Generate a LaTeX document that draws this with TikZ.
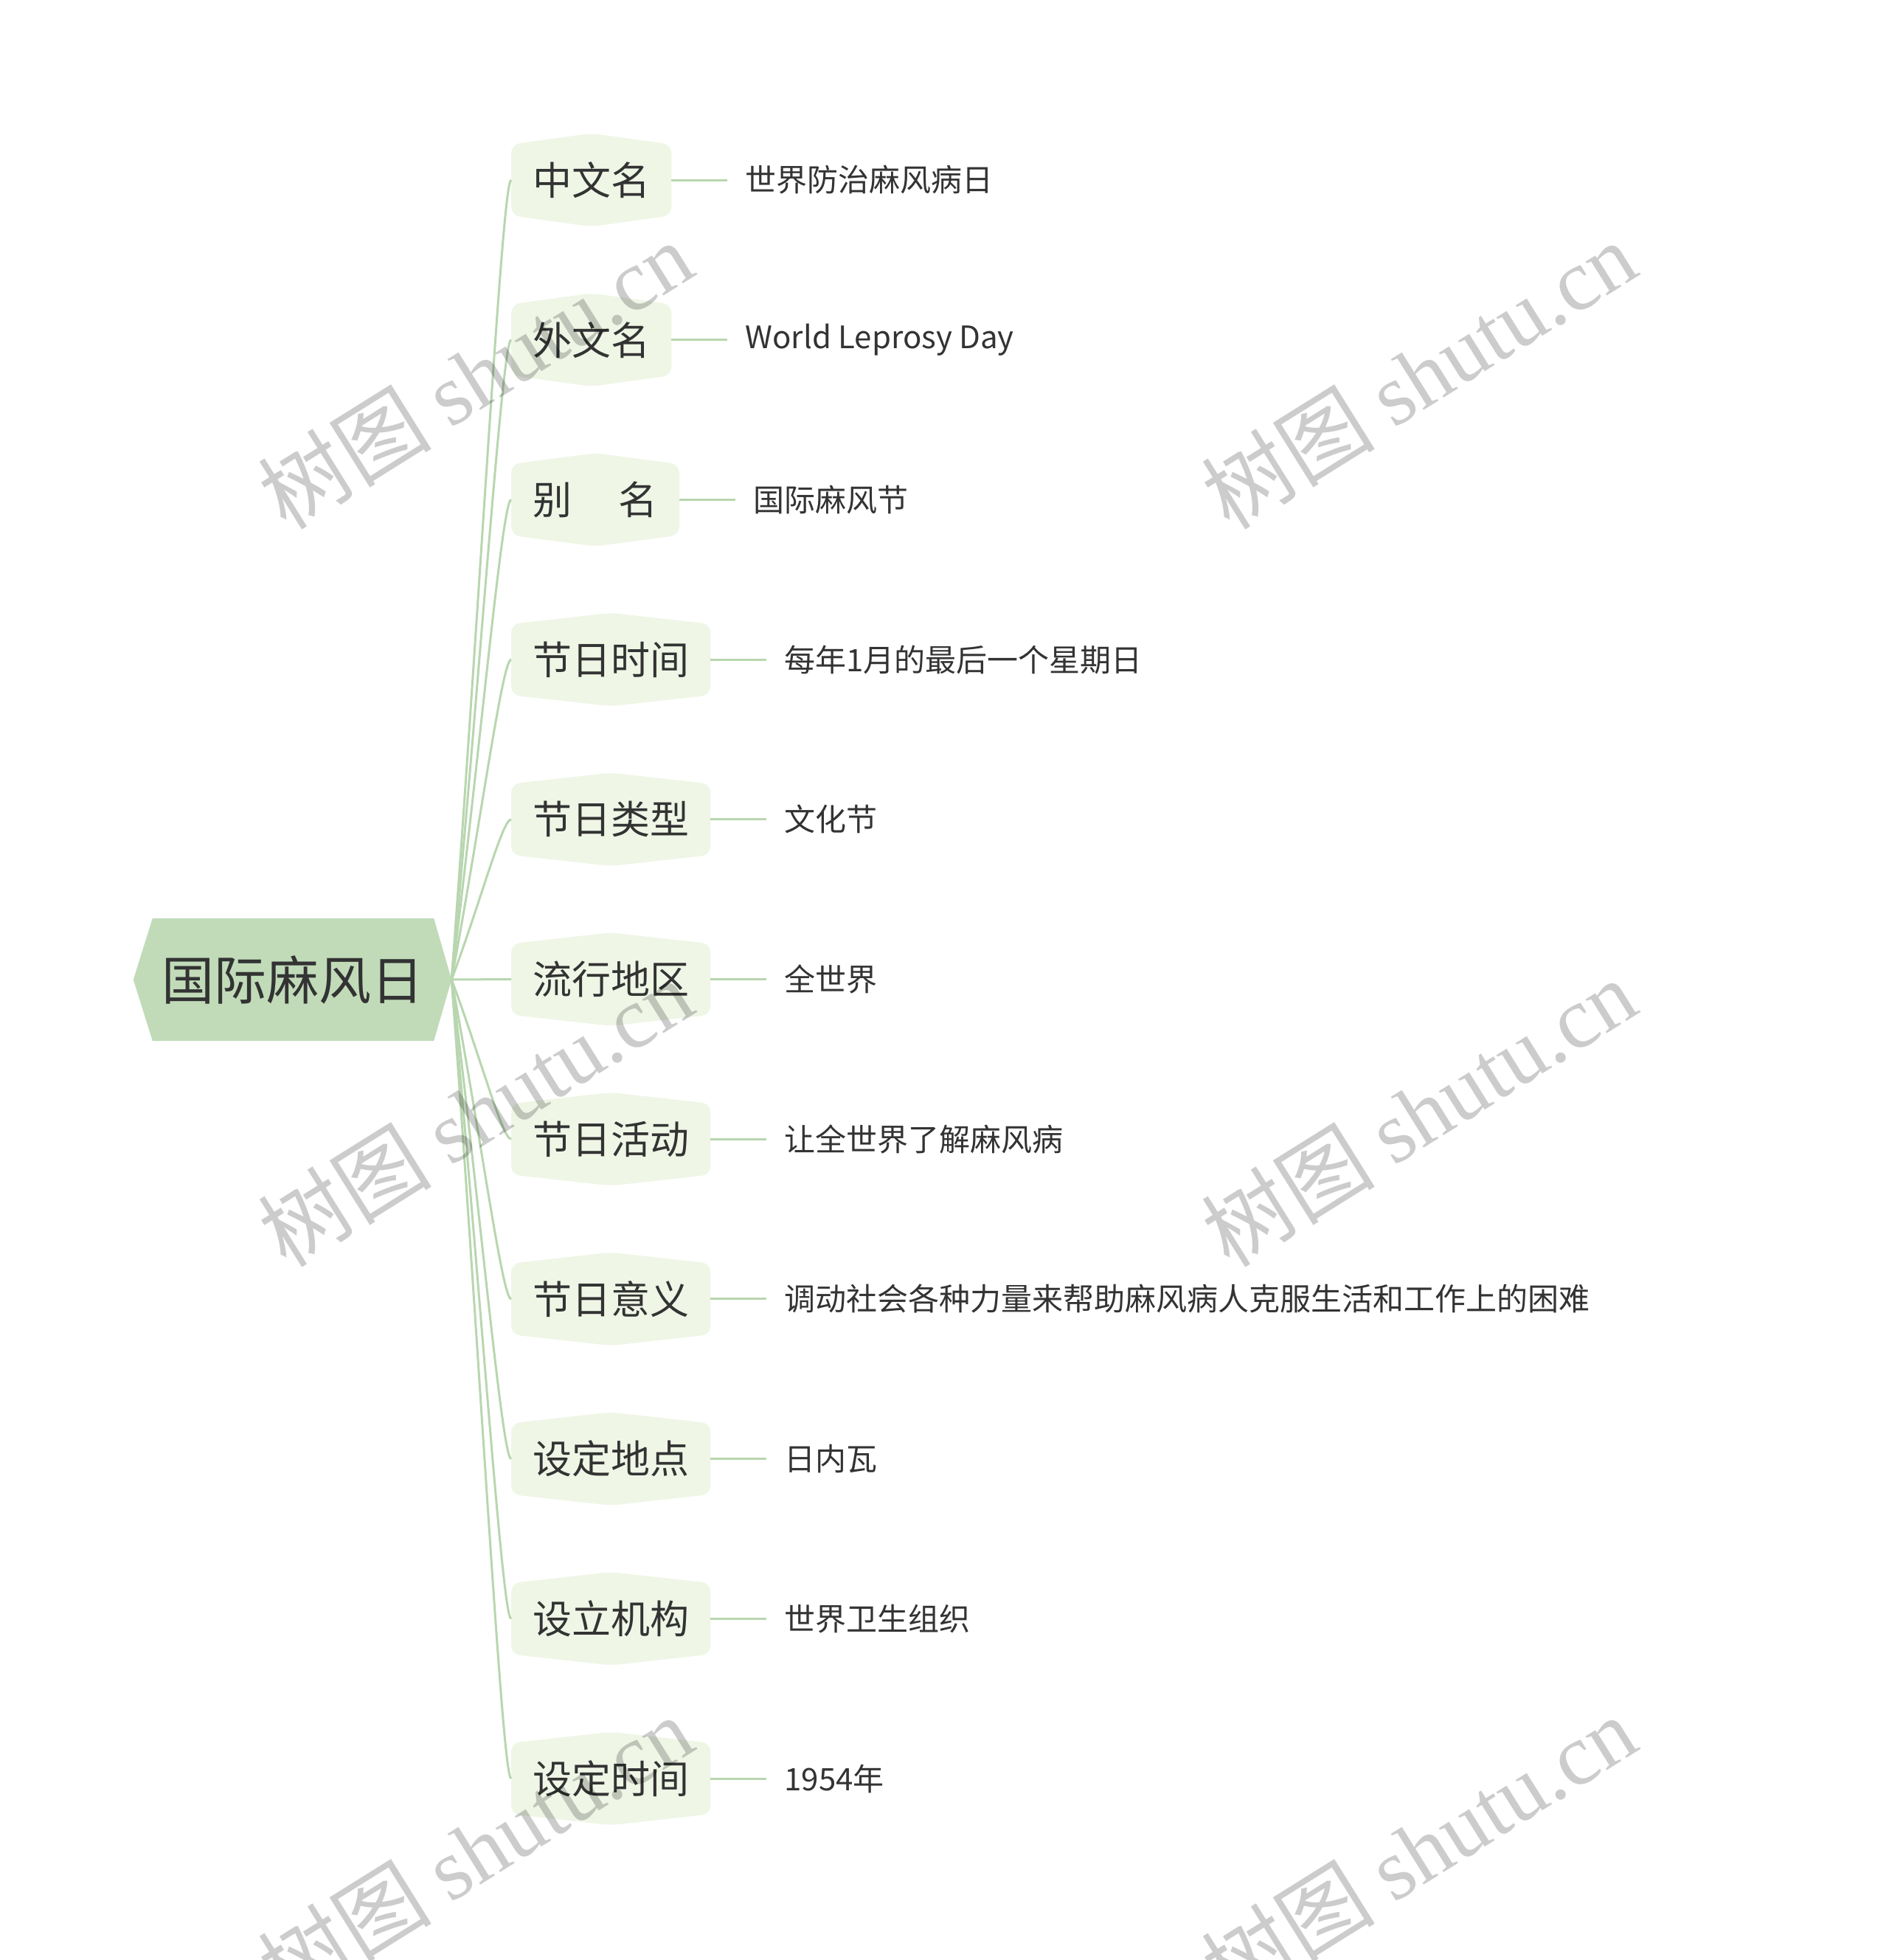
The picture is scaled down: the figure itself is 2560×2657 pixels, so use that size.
\documentclass[tikz,border=0pt]{standalone}
\usepackage{fontspec}
\setmainfont{Noto Sans CJK SC}
\newfontfamily\wmlatin{Liberation Serif}
\usetikzlibrary{calc}
\definecolor{rootfill}{HTML}{C1DBB9}
\definecolor{nodefill}{HTML}{EFF6E6}
\definecolor{linec}{HTML}{B8D6AF}
\definecolor{txt}{HTML}{333333}
\pgfdeclarelayer{bg}
\pgfdeclarelayer{paper}
\pgfsetlayers{paper,bg,main}
\begin{document}
\begin{tikzpicture}[x=1pt,y=-1pt,
  rootnode/.style={minimum width=431pt, minimum height=166pt, inner sep=0pt, font=\fontsize{71}{80}\selectfont, text=txt},
  branch/.style={anchor=west, minimum height=96pt, inner xsep=29pt, inner ysep=0pt, font=\fontsize{53}{60}\selectfont, text=txt},
  leaf/.style={anchor=west, inner xsep=24pt, inner ysep=0pt, font=\fontsize{42}{48}\selectfont, text=txt},
  conn/.style={draw=linec, line width=3pt},
  wm/.style={text=black, text opacity=0.2, rotate=32, font=\fontsize{118}{120}\selectfont, inner sep=0pt}]
\useasboundingbox (0,0) rectangle (2560,2657);
\begin{pgfonlayer}{paper}
\fill[white] (0,0) rectangle (2560,2657);
\end{pgfonlayer}

\node[rootnode] (root) at (396.5,1328) {国际麻风日};
\begin{pgfonlayer}{bg}
\fill[rootfill] (root.west) -- ([xshift=26pt]root.north west) -- ([xshift=-24pt]root.north east) -- (root.east) -- ([xshift=-24pt]root.south east) -- ([xshift=26pt]root.south west) -- cycle;
\end{pgfonlayer}

\foreach \i/\t/\l in {
  1/中文名/世界防治麻风病日,
  2/外文名/World Leprosy Day,
  3/{别\hspace{1.2em}名}/国际麻风节,
  4/节日时间/每年1月的最后一个星期日,
  5/节日类型/文化节,
  6/流行地区/全世界,
  7/节日活动/让全世界了解麻风病,
  8/节日意义/调动社会各种力量来帮助麻风病人克服生活和工作上的困难,
  9/设定地点/日内瓦,
  10/设立机构/世界卫生组织,
  11/设定时间/1954年}{
  \pgfmathsetmacro\yy{244+(\i-1)*216.7}
  \node[branch] (b\i) at (693,\yy) {\t};
  \node[leaf] (l\i) at ([xshift=76pt]b\i.east) {\l};
  \begin{pgfonlayer}{bg}
  \fill[nodefill, rounded corners=12pt] (b\i.west) -- (b\i.north west) -- ([yshift=15pt]b\i.north) -- (b\i.north east) -- (b\i.south east) -- ([yshift=-15pt]b\i.south) -- (b\i.south west) -- cycle;
  \draw[conn] (root.east) .. controls ($(root.east)!0.5!(b\i.west)$) and ([xshift=-12pt]b\i.west) .. (b\i.west);
  \draw[conn] (b\i.east) -- (l\i.west);
  \end{pgfonlayer}
}

\node[wm] (w1) at (644,508) {树图 {\wmlatin shutu.cn}};
\node[wm] (w2) at (1923,508) {树图 {\wmlatin shutu.cn}};
\node[wm] (w3) at (644,1508) {树图 {\wmlatin shutu.cn}};
\node[wm] (w4) at (1923,1508) {树图 {\wmlatin shutu.cn}};
\node[wm] (w5) at (644,2507) {树图 {\wmlatin shutu.cn}};
\node[wm] (w6) at (1923,2507) {树图 {\wmlatin shutu.cn}};
\end{tikzpicture}
\end{document}
